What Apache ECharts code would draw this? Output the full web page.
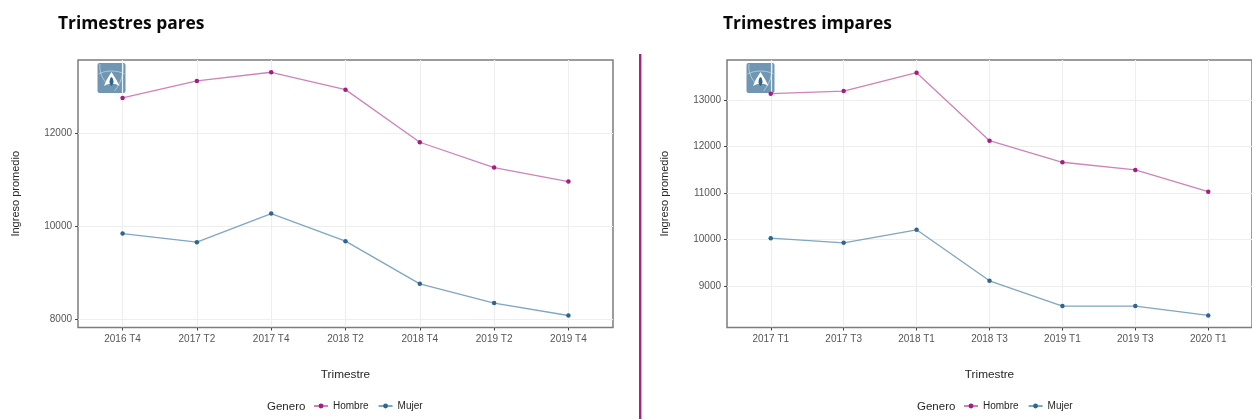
<!DOCTYPE html>
<html>
<head>
<meta charset="utf-8">
<style>html,body{margin:0;padding:0;background:#fff}#c{width:1252px;height:419px}</style>
<script src="https://cdn.jsdelivr.net/npm/echarts@6/dist/echarts.min.js"></script>
</head>
<body>
<div id="c"></div>
<script>
const categoriesPares = ['2016 T4','2017 T2','2017 T4','2018 T2','2018 T4','2019 T2','2019 T4'];
const hombrePares = [12759,13125,13312,12938,11806,11260,10959];
const mujerPares = [9841,9656,10271,9677,8759,8344,8077];
const yTicksPares = [8000,10000,12000];

const categoriesImpares = ['2017 T1','2017 T3','2018 T1','2018 T3','2019 T1','2019 T3','2020 T1'];
const hombreImpares = [13142,13200,13595,12129,11664,11498,11030];
const mujerImpares = [10028,9927,10207,9108,8562,8562,8362];
const yTicksImpares = [9000,10000,11000,12000,13000];

const chart = echarts.init(document.getElementById('c'), null, {renderer:'canvas'});
const FONT = '"Liberation Sans", Arial, sans-serif';
const TITLE_FONT = '"Open Sans", sans-serif';
const HOMBRE_DOT = '#a51c82', HOMBRE_LINE = '#cf82bb';
const MUJER_DOT = '#2f668f', MUJER_LINE = '#7fa6c2';
const positions = [0,1,2,3,4,5,6];

function xAxis(cats, idx){
  return {
    type:'value', gridIndex:idx, min:-0.6, max:6.6,
    name:'Trimestre', nameLocation:'middle', nameGap:41,
    nameTextStyle:{fontFamily:FONT,fontSize:11.8,color:'#262626'},
    axisLine:{show:false,onZero:false},
    axisTick:{show:true,length:3,customValues:positions,lineStyle:{color:'#444',width:1}},
    axisLabel:{show:true,customValues:positions,margin:7,fontFamily:FONT,fontSize:10,color:'#555',
      formatter:v=>cats[v]},
    splitLine:{show:true,lineStyle:{color:'#eeeeee',width:1.2}},
    minorSplitLine:{show:false}
  };
}
function yAxis(ticks, min, max, idx){
  return {
    type:'value', gridIndex:idx, min:min, max:max,
    name:'Ingreso promedio', nameLocation:'middle', nameGap:57, nameRotate:90,
    nameTextStyle:{fontFamily:FONT,fontSize:11,color:'#262626'},
    axisLine:{show:false,onZero:false},
    axisTick:{show:true,length:3,customValues:ticks,lineStyle:{color:'#444',width:1}},
    axisLabel:{show:true,customValues:ticks,margin:6,padding:[2,0,0,0],fontFamily:FONT,fontSize:10,color:'#555',
      formatter:v=>String(v)},
    splitLine:{show:true,lineStyle:{color:'#eeeeee',width:1.2}}
  };
}
function line(name, values, dot, ln, idx){
  return {
    type:'line', name:name, xAxisIndex:idx, yAxisIndex:idx, z:5,
    data:values.map((v,i)=>[positions[i],v]),
    symbol:'circle', symbolSize:4.5, showSymbol:true,
    itemStyle:{color:dot}, lineStyle:{color:ln,width:1.3}, clip:false
  };
}
function legend(left){
  return {
    left:left, top:401, itemWidth:14, itemHeight:6, itemGap:9, padding:0,
    data:['Hombre','Mujer'], selectedMode:false,
    textStyle:{fontFamily:FONT,fontSize:10,color:'#262626'}
  };
}
function curve(a,b,c,d,e,f,g,h){
  return {type:'bezierCurve',shape:{x1:a,y1:b,cpx1:c,cpy1:d,cpx2:e,cpy2:f,x2:g,y2:h},
    style:{fill:null,stroke:'rgba(255,255,255,0.55)',lineWidth:0.8}};
}
function logo(x){
  return {
    type:'group', x:x, y:63, z:1, silent:true,
    children:[
      {type:'rect',shape:{x:0,y:0,width:28,height:30,r:2},style:{fill:'#6f97b3'}},
      curve(2.5,1,1.5,9,5,17,11,22),
      curve(25.5,1,26.5,9,24,20,17,28),
      curve(1,11,8,7,20,7,27,11),
      {type:'polygon',shape:{points:[[6.5,23],[9,17],[14,9],[19,17],[22,23],[18,21],[10.5,21]]},style:{fill:'#ffffff'}},
      {type:'polygon',shape:{points:[[14,14],[16,19],[14,23],[12,19]],smooth:0.4},style:{fill:'#2f668f'}}
    ]
  };
}

chart.setOption({
  animation:false,
  backgroundColor:'#ffffff',
  title:[
    {text:'Trimestres pares',left:58,top:16,padding:0,textStyle:{fontFamily:TITLE_FONT,fontSize:17.4,fontWeight:700,color:'#0a0a0a'}},
    {text:'Trimestres impares',left:723,top:16,padding:0,textStyle:{fontFamily:TITLE_FONT,fontSize:17.4,fontWeight:700,color:'#0a0a0a'}},
    {text:'Genero',left:267,top:401,padding:0,textStyle:{fontFamily:FONT,fontSize:11.5,fontWeight:400,color:'#262626'}},
    {text:'Genero',left:917,top:401,padding:0,textStyle:{fontFamily:FONT,fontSize:11.5,fontWeight:400,color:'#262626'}}
  ],
  legend:[legend(313),legend(963)],
  grid:[
    {left:78,top:60,width:535,height:267.5,show:true,borderColor:'#7c7c7c',borderWidth:1.5,backgroundColor:'#fff',containLabel:false},
    {left:727,top:60,width:534,height:267.5,show:true,borderColor:'#7c7c7c',borderWidth:1.5,backgroundColor:'#fff',containLabel:false}
  ],
  xAxis:[xAxis(categoriesPares,0),xAxis(categoriesImpares,1)],
  yAxis:[yAxis(yTicksPares,7819,13576,0),yAxis(yTicksImpares,8101,13869,1)],
  series:[
    line('Hombre',hombrePares,HOMBRE_DOT,HOMBRE_LINE,0),
    line('Mujer',mujerPares,MUJER_DOT,MUJER_LINE,0),
    line('Hombre',hombreImpares,HOMBRE_DOT,HOMBRE_LINE,1),
    line('Mujer',mujerImpares,MUJER_DOT,MUJER_LINE,1)
  ],
  graphic:{elements:[
    logo(97.5),logo(746.5),
    {type:'rect',z:1,silent:true,shape:{x:639,y:54,width:2.4,height:365},style:{fill:'#a6237f'}}
  ]}
});
</script>
</body>
</html>
